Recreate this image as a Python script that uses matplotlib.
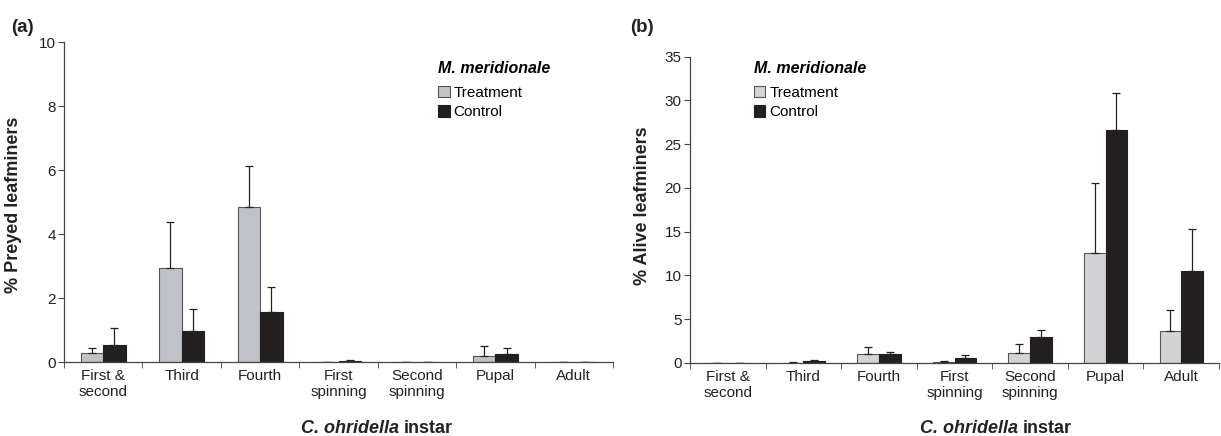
import numpy as np
import matplotlib
matplotlib.use("Agg")
import matplotlib.pyplot as plt
from matplotlib.ticker import FixedLocator

plt.rcParams["font.family"] = ["Liberation Sans", "DejaVu Sans"]

# categories (C. ohridella instar)
instars = ["First &\nsecond", "Third", "Fourth", "First\nspinning",
           "Second\nspinning", "Pupal", "Adult"]

# (a) % preyed leafminers
preyed_treat = [0.29, 2.95, 4.85, 0.0, 0.0, 0.20, 0.0]
preyed_treat_se = [0.15, 1.41, 1.27, 0.0, 0.0, 0.31, 0.0]
preyed_ctrl = [0.52, 0.97, 1.57, 0.03, 0.0, 0.26, 0.0]
preyed_ctrl_se = [0.54, 0.68, 0.76, 0.04, 0.0, 0.19, 0.0]

# (b) % alive leafminers
alive_treat = [0.0, 0.05, 1.03, 0.15, 1.14, 12.59, 3.61]
alive_treat_se = [0.0, 0.05, 0.80, 0.12, 1.03, 7.95, 2.47]
alive_ctrl = [0.0, 0.27, 1.07, 0.60, 3.00, 26.63, 10.54]
alive_ctrl_se = [0.0, 0.05, 0.18, 0.30, 0.73, 4.26, 4.75]

W, H = 1221, 436
fig = plt.figure(figsize=(W / 100, H / 100), dpi=100)


def panel(rect, treat, treat_se, ctrl, ctrl_se, treat_col, ymax, ystep,
          ylabel, ylab_xy, legend_xy):
    ax = fig.add_axes(rect)
    x = np.arange(len(instars))
    bw = 0.287
    zeros = np.zeros(len(x))
    ekw = dict(elinewidth=0.9, capsize=3, capthick=0.9, ecolor="#222222")
    b1 = ax.bar(x - bw / 2, treat, bw, color=treat_col, edgecolor="#555555",
                linewidth=0.8, yerr=[zeros, treat_se], error_kw=ekw,
                label="Treatment")
    b2 = ax.bar(x + bw / 2, ctrl, bw, color="#231f20", edgecolor="#231f20",
                linewidth=0.8, yerr=[zeros, ctrl_se], error_kw=ekw,
                label="Control")
    ax.set_xlim(-0.5, len(x) - 0.5)
    ax.set_ylim(0, ymax)
    ax.set_yticks(np.arange(0, ymax + 0.01, ystep))
    ax.set_xticks(x)
    ax.set_xticklabels(instars, fontsize=11, color="#222222",
                       linespacing=1.15)
    ax.xaxis.set_minor_locator(FixedLocator(np.arange(-0.5, len(x), 1.0)))
    ax.tick_params(axis="x", which="major", length=0, pad=5)
    ax.tick_params(axis="x", which="minor", length=4, direction="out",
                   color="#444444")
    ax.tick_params(axis="y", labelsize=11, length=4, color="#444444",
                   labelcolor="#222222", pad=2)
    for s in ["top", "right"]:
        ax.spines[s].set_visible(False)
    for s in ["left", "bottom"]:
        ax.spines[s].set_color("#444444")
        ax.spines[s].set_linewidth(0.9)
    ax.set_ylabel(ylabel, fontsize=13, fontweight="bold", color="#222222")
    ax.yaxis.set_label_coords(*ylab_xy)
    leg = ax.legend(handles=[b1, b2], loc="upper left",
                    bbox_to_anchor=legend_xy, frameon=False,
                    title="M. meridionale", fontsize=11,
                    handlelength=0.75, handleheight=0.75, handletextpad=0.25,
                    labelspacing=0.35, borderpad=0, borderaxespad=0)
    leg.get_title().set_fontweight("bold")
    leg.get_title().set_fontstyle("italic")
    leg.get_title().set_fontsize(11.5)
    leg._legend_box.align = "left"
    leg._legend_box.sep = 7
    return ax


ax_a = panel([64 / W, 1 - 362 / H, 549 / W, 320 / H],
             preyed_treat, preyed_treat_se, preyed_ctrl, preyed_ctrl_se,
             "#c0c2c8", 10, 2, "% Preyed leafminers", (-0.077, 0.49),
             (0.682, 0.94))
ax_b = panel([690 / W, 1 - 363 / H, 529 / W, 306.3 / H],
             alive_treat, alive_treat_se, alive_ctrl, alive_ctrl_se,
             "#d3d3d5", 35, 5, "% Alive leafminers", (-0.074, 0.513),
             (0.121, 0.985))

# x labels with italic species name
for split in (401, 1020):
    fig.text((split - 2) / W, 1 - 428 / H, "C. ohridella", ha="right",
             va="center", fontsize=13, fontweight="bold",
             fontstyle="italic", color="#222222")
    fig.text((split + 3) / W, 1 - 428 / H, "instar", ha="left",
             va="center", fontsize=13, fontweight="bold", color="#222222")

fig.text(11 / W, 1 - 27 / H, "(a)", fontsize=13.5, fontweight="bold",
         va="center", color="#222222")
fig.text(630 / W, 1 - 27 / H, "(b)", fontsize=13.5, fontweight="bold",
         va="center", color="#222222")

fig.savefig("out.png", dpi=100)
